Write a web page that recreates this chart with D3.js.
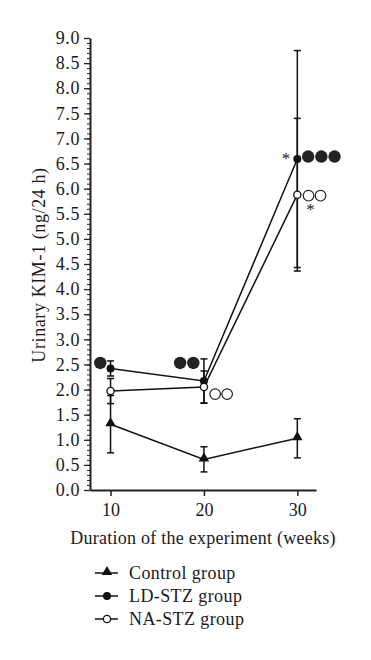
<!DOCTYPE html>
<html>
<head>
<meta charset="utf-8">
<script src="https://cdn.jsdelivr.net/npm/d3@7"></script>
<style>
    body { margin: 0; background: #fff; }
    text { font-family: "Liberation Serif", "DejaVu Serif", serif; fill: #1a1a1a; }
</style>
</head>
<body>
<svg width="371" height="660"></svg>
<script>
// weeks on the x axis
var weeks = [10, 20, 30];

// mean and SD per group
var controlMean = [1.31, 0.61, 1.03];
var controlSd = [0.57, 0.25, 0.39];
var ldMean = [2.42, 2.17, 6.59];
var ldSd = [0.15, 0.44, 2.16];
var naMean = [1.97, 2.05, 5.88];
var naSd = [0.25, 0.32, 1.52];

var yTicks = [0, 0.5, 1, 1.5, 2, 2.5, 3, 3.5, 4, 4.5, 5, 5.5, 6, 6.5, 7, 7.5, 8, 8.5, 9];

// significance marks: big circles (count) and asterisks
var ldCircles = [
    { week: 8.9, value: 2.53, n: 1 },
    { week: 17.45, value: 2.53, n: 2 },
    { week: 31.16, value: 6.64, n: 3 }
];
var naCircles = [
    { week: 21.2, value: 1.91, n: 2 },
    { week: 31.2, value: 5.86, n: 2 }
];
var stars = [
    { week: 28.8, value: 6.5 },
    { week: 31.4, value: 5.48 }
];

var legendLabels = ["Control group", "LD-STZ group", "NA-STZ group"];

var svg = d3.select("svg");

var x = d3.scaleLinear().domain([7.8, 32]).range([90, 316]);
var y = d3.scaleLinear().domain([0, 9]).range([490, 38]);

//minor ticks on y
svg.append("g")
    .attr("transform", "translate(90,0)")
    .call(d3.axisLeft(y).ticks(90).tickSize(3).tickFormat("").tickSizeOuter(0))
    .call(g => g.select(".domain").remove())
    .call(g => g.selectAll("line").attr("stroke", "#222").attr("stroke-width", 1));

var yAxis = svg.append("g")
    .attr("transform", "translate(90,0)")
    .call(d3.axisLeft(y).tickValues(yTicks).tickFormat(d3.format(".1f")).tickSize(6).tickSizeOuter(0).tickPadding(4));
yAxis.select(".domain").attr("stroke", "#222").attr("stroke-width", 2);
yAxis.selectAll("line").attr("stroke", "#222").attr("stroke-width", 1.3);
yAxis.selectAll("text").style("font-size", "18px").style("letter-spacing", "0.6px").attr("fill", "#1a1a1a");

var xAxis = svg.append("g")
    .attr("transform", "translate(0,490)")
    .call(d3.axisBottom(x).tickValues(weeks).tickSize(6).tickSizeOuter(0).tickPadding(7));
xAxis.select(".domain").attr("stroke", "#222").attr("stroke-width", 2);
xAxis.selectAll("line").attr("stroke", "#222").attr("stroke-width", 1.5);
xAxis.selectAll("text").style("font-size", "18px").attr("fill", "#1a1a1a");

svg.append("text")
    .attr("x", 203).attr("y", 544)
    .attr("text-anchor", "middle")
    .style("font-size", "18px")
    .style("letter-spacing", "0.25px")
    .text("Duration of the experiment (weeks)");

svg.append("text")
    .attr("transform", "translate(45,265) rotate(-90)")
    .attr("text-anchor", "middle")
    .style("font-size", "18px")
    .style("letter-spacing", "0.6px")
    .text("Urinary KIM-1 (ng/24 h)");

var series = [
    { name: "control", mean: controlMean, sd: controlSd, symbol: "triangle" },
    { name: "ld", mean: ldMean, sd: ldSd, symbol: "filled" },
    { name: "na", mean: naMean, sd: naSd, symbol: "open" }
];

var line = d3.line()
    .x(d => x(d.week))
    .y(d => y(d.mean));

series.forEach(s => {
    s.points = weeks.map((w, i) => ({ week: w, mean: s.mean[i], sd: s.sd[i] }));
});

// error bars
series.forEach(s => {
    var g = svg.append("g").attr("stroke", "#111").attr("stroke-width", 1.5);
    s.points.forEach(d => {
        g.append("line")
            .attr("x1", x(d.week)).attr("x2", x(d.week))
            .attr("y1", y(d.mean - d.sd)).attr("y2", y(d.mean + d.sd));
        [d.mean - d.sd, d.mean + d.sd].forEach(v => {
            g.append("line")
                .attr("x1", x(d.week) - 3.5).attr("x2", x(d.week) + 3.5)
                .attr("y1", y(v)).attr("y2", y(v));
        });
    });
});

// lines
series.forEach(s => {
    svg.append("path")
        .datum(s.points)
        .attr("d", line)
        .attr("fill", "none")
        .attr("stroke", "#111")
        .attr("stroke-width", 1.5);
});

function drawMarker(g, type, cx, cy) {
    if (type == "triangle") {
        g.append("path")
            .attr("d", d3.symbol(d3.symbolTriangle, 48)())
            .attr("transform", "translate(" + cx + "," + (cy - 1) + ")")
            .attr("fill", "#111");
    } else if (type == "filled") {
        g.append("circle").attr("cx", cx).attr("cy", cy).attr("r", 4)
            .attr("fill", "#111");
    } else {
        g.append("circle").attr("cx", cx).attr("cy", cy).attr("r", 3.6)
            .attr("fill", "#fff").attr("stroke", "#111").attr("stroke-width", 1.3);
    }
}

// markers
series.forEach(s => {
    var g = svg.append("g");
    s.points.forEach(d => drawMarker(g, s.symbol, x(d.week), y(d.mean)));
});

// significance circles
var sig = svg.append("g");
ldCircles.forEach(d => {
    for (var i = 0; i < d.n; i++) {
        sig.append("circle")
            .attr("cx", x(d.week) + i * 13.2).attr("cy", y(d.value))
            .attr("r", 6.2).attr("fill", "#222");
    }
});
naCircles.forEach(d => {
    for (var i = 0; i < d.n; i++) {
        sig.append("circle")
            .attr("cx", x(d.week) + i * 12).attr("cy", y(d.value))
            .attr("r", 5.3).attr("fill", "#fff")
            .attr("stroke", "#222").attr("stroke-width", 1.2);
    }
});
stars.forEach(d => {
    sig.append("text")
        .attr("x", x(d.week)).attr("y", y(d.value))
        .attr("text-anchor", "middle")
        .style("font-size", "17px")
        .attr("fill", "#333")
        .text("*");
});

// legend
var legend = svg.append("g");
legendLabels.forEach((label, i) => {
    var ly = 573 + i * 23;
    legend.append("line")
        .attr("x1", 95).attr("x2", 118)
        .attr("y1", ly).attr("y2", ly)
        .attr("stroke", "#111").attr("stroke-width", 1.5);
    drawMarker(legend, series[i].symbol, 107, ly);
    legend.append("text")
        .attr("x", 129).attr("y", ly + 6)
        .style("font-size", "18px")
        .style("letter-spacing", "0.4px")
        .text(label);
});
</script>
</body>
</html>
